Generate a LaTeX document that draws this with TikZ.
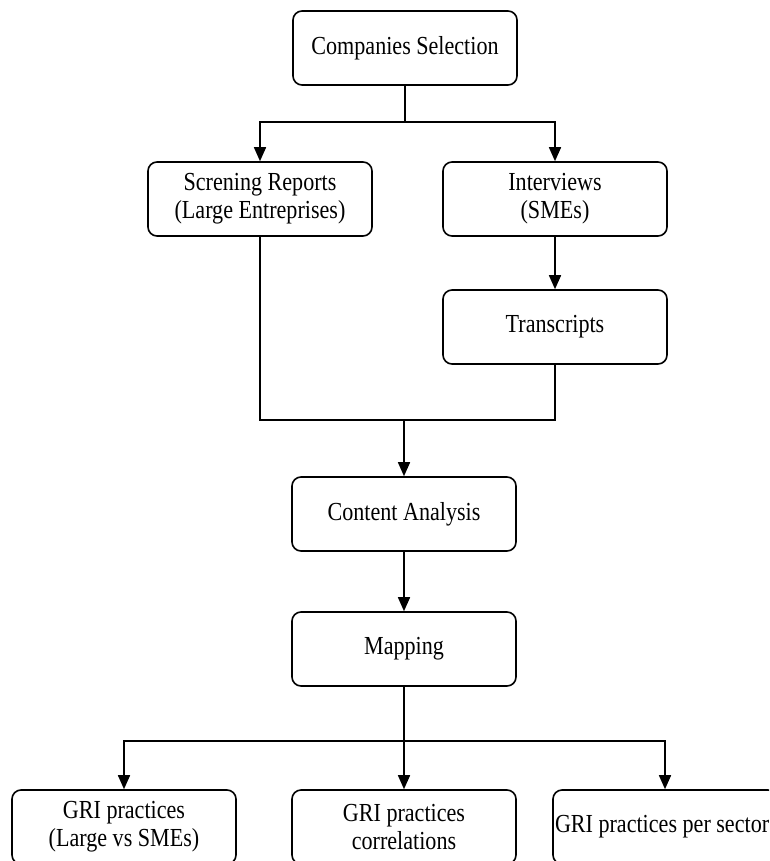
\documentclass[tikz,border=0pt]{standalone}
\usepackage{fontspec}
\setmainfont[FakeStretch=0.85]{Liberation Serif}
\usepackage{tikz}
\usetikzlibrary{arrows.meta, calc}

\begin{document}
\begin{tikzpicture}[x=1pt, y=-1pt, line width=1.6pt,
  box/.style={draw, rounded corners=9pt, minimum width=224pt, minimum height=74pt,
    align=center, font=\fontsize{26}{28}\selectfont},
  arr/.style={-{Triangle[width=12pt,length=14pt]}}]
\clip (0,0) rectangle (769,861);
\fill[white] (0,0) rectangle (769,861);

\node[box] (sel) at (405,48) {Companies Selection};
\node[box] (rep) at (260,199) {Screning Reports\\(Large Entreprises)};
\node[box] (int) at (555,199) {Interviews\\(SMEs)};
\node[box] (tra) at (555,327) {Transcripts};
\node[box] (con) at (404,514) {Content Analysis};
\node[box] (map) at (404,649) {Mapping};

\node[box] (gri1) at (124,827) {GRI practices\\(Large vs SMEs)};
\node[box] (gri2) at (404,827) {GRI practices\\correlations};
\node[box, inner sep=2pt, text width=220pt, align=flush left] (gri3) at (665,827) {GRI practices per sector};

\coordinate (split) at (405,122);
\coordinate (merge) at (404,420);
\coordinate (fork) at (404,741);

\draw (sel) -- (split);
\draw[arr] (split) -| (rep.north);
\draw[arr] (split) -| (int.north);
\draw[arr] (int) -- (tra);

\draw (rep.south) |- (merge) -| (tra.south);
\draw[arr] (merge) -- (con.north);
\draw[arr] (con) -- (map);

\draw (map) -- (fork);
\draw[arr] (fork) -| (gri1.north);
\draw[arr] (fork) -- (gri2.north);
\draw[arr] (fork) -| (gri3.north);
\end{tikzpicture}
\end{document}
